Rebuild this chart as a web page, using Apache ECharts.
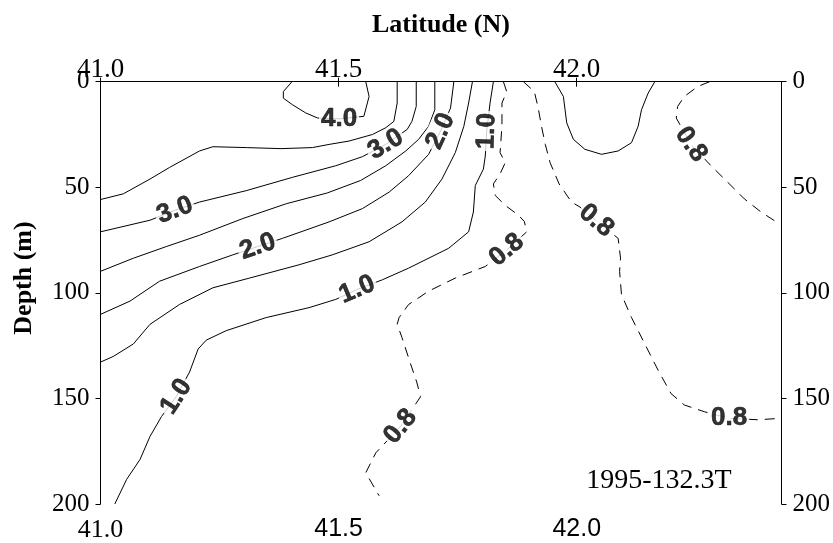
<!DOCTYPE html>
<html>
<head>
<meta charset="utf-8">
<script src="https://cdn.jsdelivr.net/npm/echarts@6/dist/echarts.min.js"></script>
<style>
html,body{margin:0;padding:0;background:#fff;overflow:hidden;width:833px;height:543px;}
#chart{width:833px;height:543px;position:absolute;left:0;top:0;}
</style>
</head>
<body>
<div id="chart"></div>
<script>
// ---- Data (latitude °N, depth m) ----
const xTickValues = [41.0, 41.5, 42.0];
const depthTicks = [0, 50, 100, 150, 200];

const c40 = [[41.402,0],[41.384,4.7],[41.384,7.8],[41.403,10.9],[41.431,14.8],[41.456,17.2],[41.501,17.6],[41.553,16.4],[41.564,7.0],[41.557,0]];
const c35 = [[41.623,0],[41.623,10.1],[41.616,18.8],[41.599,21.8],[41.571,25.0],[41.522,28.1],[41.480,29.7],[41.445,31.2],[41.379,31.7],[41.306,31.2],[41.236,30.8],[41.208,32.8],[41.145,40.6],[41.104,46.1],[41.048,53.1],[41.0,55.8]];
const c30 = [[41.663,0],[41.663,11.7],[41.654,18.8],[41.644,22.6],[41.599,29.7],[41.550,35.5],[41.494,39.8],[41.403,45.3],[41.306,51.6],[41.208,57.0],[41.156,60.9],[41.104,65.6],[41.0,71.1]];
const c25 = [[41.702,0],[41.702,13.3],[41.689,21.1],[41.668,27.3],[41.641,32.8],[41.599,39.8],[41.546,46.8],[41.476,52.7],[41.390,57.8],[41.299,64.8],[41.208,72.7],[41.138,78.1],[41.069,83.6],[41.0,89.8]];
const c20 = [[41.742,0],[41.735,12.5],[41.714,23.4],[41.689,34.4],[41.647,44.5],[41.606,52.3],[41.550,60.1],[41.480,66.4],[41.382,74.2],[41.330,78.1],[41.278,82.0],[41.208,87.5],[41.124,94.5],[41.062,103.9],[41.0,110.2]];
const c15 = [[41.781,0],[41.773,10.1],[41.763,21.1],[41.745,33.6],[41.717,46.1],[41.682,57.0],[41.633,66.4],[41.564,75.8],[41.487,82.0],[41.417,86.7],[41.313,93.0],[41.236,97.6],[41.166,105.5],[41.104,114.9],[41.069,124.2],[41.027,130.1],[41.0,132.8]];
const c10 = [[41.825,0],[41.818,10.1],[41.811,23.4],[41.808,35.2],[41.804,41.4],[41.787,49.2],[41.783,61.7],[41.773,71.1],[41.731,78.9],[41.647,88.3],[41.592,93.8],[41.539,98.4],[41.494,103.1],[41.438,107.0],[41.348,111.7],[41.264,117.9],[41.222,122.4],[41.205,126.6],[41.187,137.5],[41.159,149.2],[41.128,158.6],[41.104,168.0],[41.083,178.9],[41.055,188.3],[41.030,200]];
const c10u = [[41.954,0],[41.972,7.0],[41.979,19.5],[41.993,27.3],[42.017,32.0],[42.052,34.4],[42.087,32.8],[42.115,28.9],[42.129,21.1],[42.136,13.3],[42.150,5.4],[42.164,0]];
const d08a = [[41.846,0],[41.853,4.7],[41.843,10.1],[41.843,21.1],[41.839,33.6],[41.850,38.3],[41.839,43.7],[41.825,48.4],[41.829,53.9],[41.850,58.6],[41.878,63.3],[41.890,66.2],[41.895,71.1],[41.853,79.7],[41.808,87.5],[41.745,93.0],[41.689,99.2],[41.647,105.5],[41.627,111.7],[41.623,114.9],[41.633,121.1],[41.651,133.6],[41.664,142.2],[41.672,149.2],[41.630,163.3],[41.578,175.8],[41.557,185.2],[41.585,196.1]];
const d08b = [[41.888,0],[41.911,4.7],[41.919,12.3],[41.926,21.1],[41.934,29.7],[41.944,38.3],[41.963,48.4],[41.989,57.0],[42.007,59.4],[42.041,65.8],[42.087,74.2],[42.092,83.6],[42.090,89.8],[42.094,100.8],[42.115,111.7],[42.143,124.2],[42.171,136.7],[42.198,147.7],[42.226,153.1],[42.268,156.3],[42.320,159.4],[42.380,160.1],[42.431,159.4]];
const d08c = [[42.279,0],[42.254,2.3],[42.226,7.0],[42.212,11.7],[42.209,17.2],[42.240,29.7],[42.282,39.8],[42.317,47.6],[42.352,55.5],[42.387,61.7],[42.415,65.8]];

// contour labels
const labelLat   = [41.501, 41.599, 41.156, 41.714, 41.330, 41.811, 41.539, 41.159, 41.853, 41.630, 42.041, 42.320, 42.240];
const labelDepth = [17.6,   29.7,   60.9,   23.4,   78.1,   23.4,   98.4,   149.2,  79.7,   163.3,  65.8,   159.4,  29.7];
const labelText  = ['4.0', '3.0', '3.0', '2.0', '2.0', '1.0', '1.0', '1.0', '0.8', '0.8', '0.8', '0.8', '0.8'];
const labelAngle = [0, 31, 20, 65, 19, 88, 23, 57, 40, 50, -40, 0, -55];

const solidLines = [c40, c35, c30, c25, c20, c15, c10, c10u];
const dashedLines = [d08a, d08b, d08c];

// ---- Chart ----
const chart = echarts.init(document.getElementById('chart'), null, {renderer: 'canvas', width: 833, height: 543});
const serif = 'Liberation Serif, Times New Roman, serif';
const sans = 'Liberation Sans, Arial, sans-serif';

const series = [];
solidLines.forEach(function (d) {
  series.push({type: 'line', data: d, xAxisIndex: 0, yAxisIndex: 0, symbol: 'none', smooth: false,
    lineStyle: {color: '#000', width: 1}, z: 2, silent: true});
});
dashedLines.forEach(function (d) {
  series.push({type: 'line', data: d, xAxisIndex: 0, yAxisIndex: 0, symbol: 'none', smooth: false,
    lineStyle: {color: '#000', width: 1, type: [10, 7]}, z: 2, silent: true});
});
series.push({
  type: 'scatter', xAxisIndex: 0, yAxisIndex: 0, symbolSize: 0, z: 5, silent: true,
  data: labelLat.map(function (lat, i) {
    return {value: [lat, labelDepth[i]], name: labelText[i],
      label: {rotate: labelAngle[i]}};
  }),
  label: {show: true, position: 'inside', formatter: '{b}', color: '#000',
    fontFamily: sans, fontWeight: 'bold', fontSize: 26,
    textBorderColor: '#000', textBorderWidth: 0.6,
    backgroundColor: '#fff', padding: [0, 2]}
});

const yAxisCommon = {
  type: 'value', min: 0, max: 200, interval: 50, inverse: true,
  axisLine: {show: true, lineStyle: {color: '#000', width: 1}},
  axisTick: {show: true, inside: false, length: 5, lineStyle: {color: '#000'}},
  splitLine: {show: false},
  axisLabel: {color: '#000', fontFamily: serif, fontSize: 25, margin: 11}
};

const option = {
  animation: false,
  backgroundColor: '#fff',
  grid: {left: 100.5, right: 48.7, top: 81.7, bottom: 34.7, containLabel: false},
  xAxis: [
    {type: 'value', position: 'bottom', min: 41.0, max: 42.43, interval: 0.5,
     axisLine: {show: true, lineStyle: {color: '#000', width: 1}},
     axisTick: {show: true, length: 5, lineStyle: {color: '#000'}},
     splitLine: {show: false},
     axisLabel: {showMaxLabel: false, color: '#000', fontFamily: serif, fontSize: 26, margin: 13,
       formatter: function (v) {
         const s = v.toFixed(1);
         return v === xTickValues[0] ? s : '{s|' + s + '}';
       },
       rich: {s: {fontFamily: sans, fontSize: 25, color: '#000'}}
     }
    },
    {type: 'value', position: 'top', min: 41.0, max: 42.43, interval: 0.5,
     name: 'Latitude (N)', nameLocation: 'middle', nameGap: 43,
     nameTextStyle: {fontFamily: serif, fontWeight: 'bold', fontSize: 26, color: '#000'},
     axisLine: {show: true, lineStyle: {color: '#000', width: 1}},
     axisTick: {show: true, length: 4, lineStyle: {color: '#000'}},
     splitLine: {show: false},
     axisLabel: {showMaxLabel: false, color: '#000', fontFamily: serif, fontSize: 27, margin: -2,
       formatter: function (v) { return v.toFixed(1); }}
    }
  ],
  yAxis: [
    Object.assign({position: 'left'}, yAxisCommon),
    Object.assign({position: 'right'}, yAxisCommon)
  ],
  graphic: [
    {type: 'text', x: 24, y: 278, rotation: Math.PI / 2,
     style: {text: 'Depth (m)', fill: '#000', font: 'bold 26px ' + serif, align: 'center', verticalAlign: 'middle'}},
    {type: 'text', x: 659, y: 481,
     style: {text: '1995-132.3T', fill: '#000', font: '28px ' + serif, align: 'center', verticalAlign: 'middle'}}
  ],
  series: series
};
chart.setOption(option);
</script>
</body>
</html>
